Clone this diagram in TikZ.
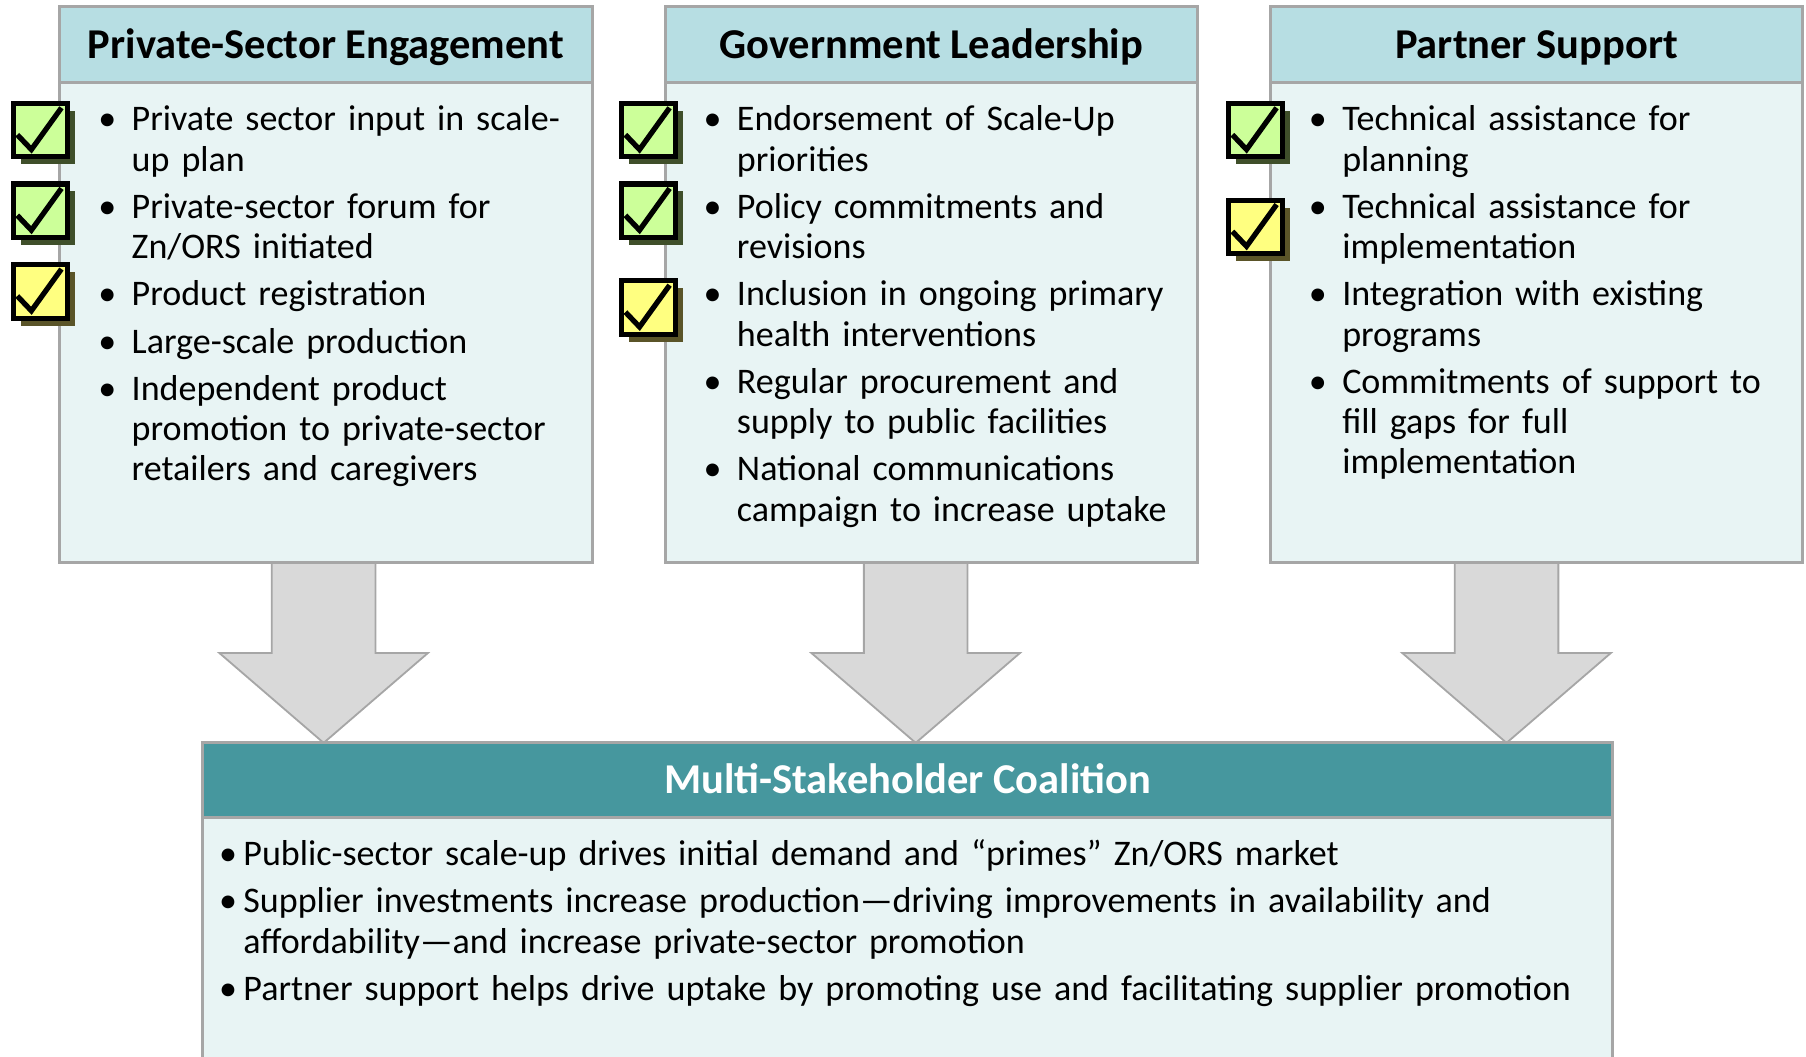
\documentclass[tikz,border=0pt]{standalone}
\usepackage{fontspec}
\setmainfont{Carlito}
\usetikzlibrary{positioning,backgrounds,shadows}
\definecolor{framegray}{HTML}{A6A6A6}
\definecolor{hdrblue}{HTML}{B7DEE3}
\definecolor{bodyblue}{HTML}{E8F4F4}
\definecolor{coaltea}{HTML}{46979E}
\definecolor{arrowgray}{HTML}{D9D9D9}
\definecolor{chkgreen}{HTML}{CCFF99}
\definecolor{chkyellow}{HTML}{FFFF80}
\definecolor{shgreen}{HTML}{3F4F2A}
\definecolor{shyellow}{HTML}{5A5428}
% bullet with hanging indent (lines broken with \newline)
\newcommand\bitem[2][0.58cm]{\hangindent=#1\hangafter=1\noindent
  \makebox[#1][l]{\textbullet}#2\par}
\tikzset{
  % column boxes
  hdr/.style={draw=framegray,line width=1.5pt,fill=hdrblue,inner sep=0pt,
              outer sep=0pt,minimum width=9.24cm,minimum height=1.32cm,
              text height=0.64cm,text depth=0.18cm,
              font=\fontsize{21}{25}\selectfont\bfseries},
  body/.style={draw=framegray,line width=1.5pt,fill=bodyblue,inner sep=0pt,
               outer sep=0pt,minimum width=9.24cm,minimum height=8.32cm},
  items/.style={anchor=base west,inner sep=0pt,align=left,text width=#1,
                font=\fontsize{17.8}{19.92}\selectfont,
                execute at begin node={\setlength{\parskip}{0.12cm}}},
  items/.default=8.8cm,
  % coalition box
  coalhead/.style={hdr,fill=coaltea,text=white,minimum width=24.48cm,
                   minimum height=1.3cm},
  coalbody/.style={body,minimum width=24.48cm,minimum height=4.8cm},
  bigarrow/.style={draw=framegray,line width=0.9pt,fill=arrowgray},
  % check boxes
  chk/.style={draw=black,line width=2.5pt,minimum size=0.93cm,inner sep=0pt,
              drop shadow={shadow xshift=0.13cm,shadow yshift=-0.13cm,
                           opacity=1,fill=#1},
              path picture={\draw[black,line width=2.6pt]
                ([shift={(-0.40,-0.08)}]path picture bounding box.center) --
                ([shift={(-0.155,-0.337)}]path picture bounding box.center) --
                ([shift={(0.367,0.388)}]path picture bounding box.center);}},
  chkg/.style={chk=shgreen,fill=chkgreen},
  chky/.style={chk=shyellow,fill=chkyellow},
}
\begin{document}
\begin{tikzpicture}
\useasboundingbox (0,0) rectangle (31.36,18.34);
  % three columns
  \node[hdr] (psHead) at (5.66,17.56) {Private-Sector Engagement};
  \node[body,below=0pt of psHead] (psBody) {};
  \node[hdr] (glHead) at (16.17,17.56) {Government Leadership};
  \node[body,below=0pt of glHead] (glBody) {};
  \node[hdr] (paHead) at (26.68,17.56) {Partner Support};
  \node[body,below=0pt of paHead] (paBody) {};

  \node[items] (psList) at ([xshift=0.66cm,yshift=-0.83cm]psBody.north west) {%
    \bitem{Private sector input in scale-\newline up plan}
    \bitem{Private-sector forum for\newline Zn/ORS initiated}
    \bitem{Product registration}
    \bitem{Large-scale production}
    \bitem{Independent product\newline promotion to private-sector\newline retailers and caregivers}};
  \node[items] (glList) at ([xshift=0.66cm,yshift=-0.83cm]glBody.north west) {%
    \bitem{Endorsement of Scale-Up\newline priorities}
    \bitem{Policy commitments and\newline revisions}
    \bitem{Inclusion in ongoing primary\newline health interventions}
    \bitem{Regular procurement and\newline supply to public facilities}
    \bitem{National communications\newline campaign to increase uptake}};
  \node[items] (paList) at ([xshift=0.66cm,yshift=-0.83cm]paBody.north west) {%
    \bitem{Technical assistance for\newline planning}
    \bitem{Technical assistance for\newline implementation}
    \bitem{Integration with existing\newline programs}
    \bitem{Commitments of support to\newline fill gaps for full\newline implementation}};

  % coalition
  \node[coalhead] (msHead) at (15.76,4.79) {Multi-Stakeholder Coalition};
  \node[coalbody,below=0pt of msHead] (msBody) {};
  \node[items=24cm] (msList) at ([xshift=0.28cm,yshift=-0.83cm]msBody.north west) {%
    \bitem[0.42cm]{Public-sector scale-up drives initial demand and “primes” Zn/ORS market}
    \bitem[0.42cm]{Supplier investments increase production—driving improvements in availability and\newline affordability—and increase private-sector promotion}
    \bitem[0.42cm]{Partner support helps drive uptake by promoting use and facilitating supplier promotion}};

  % block arrows down to the coalition
  \begin{scope}[on background layer]
  \foreach \x/\src in {5.62/psBody,15.9/glBody,26.16/paBody}
    \draw[bigarrow] ({\x-0.9},0 |- \src.south) -- ({\x-0.9},7.0) -- ({\x-1.81},7.0)
      -- (\x,0 |- msHead.north) -- ({\x+1.81},7.0) -- ({\x+0.9},7.0)
      -- ({\x+0.9},0 |- \src.south) -- cycle;
  \end{scope}

  % status marks
  \node[chkg] (ps1) at (0.70,16.08) {};
  \node[chkg] (ps2) at (0.70,14.68) {};
  \node[chky] (ps3) at (0.70,13.28) {};
  \node[chkg] (gl1) at (11.26,16.08) {};
  \node[chkg] (gl2) at (11.26,14.68) {};
  \node[chky] (gl3) at (11.26,13.00) {};
  \node[chkg] (pa1) at (21.80,16.08) {};
  \node[chky] (pa2) at (21.80,14.40) {};
\end{tikzpicture}
\end{document}
